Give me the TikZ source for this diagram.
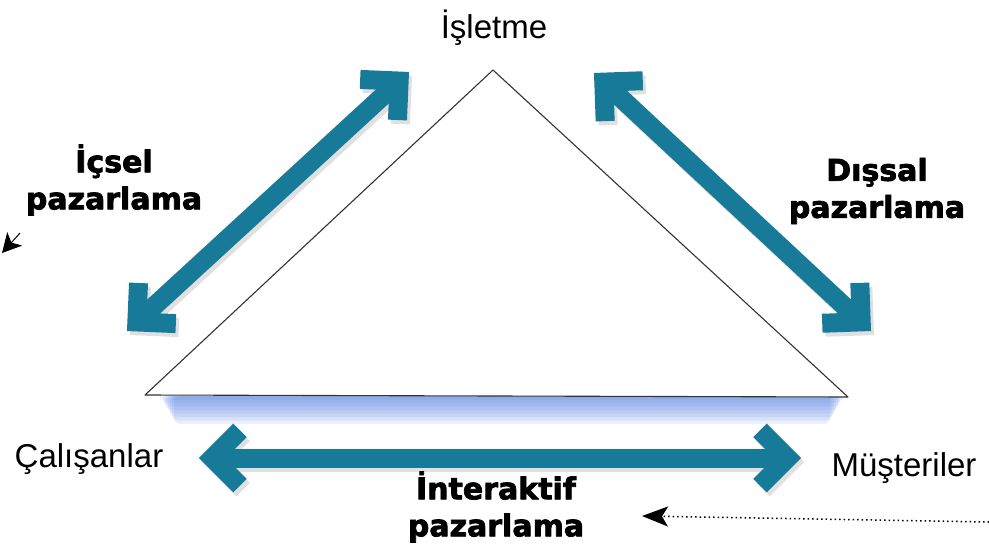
\documentclass[tikz,border=0pt]{standalone}
\usepackage{fontspec}
\setmainfont{Liberation Sans}
\newfontfamily\heavyfont{DejaVu Sans Bold}[FakeBold=2.5]
\usetikzlibrary{calc,arrows.meta}
\definecolor{arrowteal}{RGB}{22,122,152}
\definecolor{glowblue}{RGB}{80,125,225}
\tikzset{
  tealshaft/.style={draw=arrowteal, line width=19pt, line cap=butt},
  tealbarb/.style={tealshaft, line join=miter},
  plainlabel/.style={font=\fontsize{33}{38}\selectfont, inner sep=0pt},
  boldlabel/.style={font=\heavyfont\fontsize{30}{37}\selectfont, align=center, inner sep=0pt},
}
% two-way arrow between two tips, colour #3
\newcommand{\twowaypath}[3]{%
  \coordinate (#1in) at ($(#1)!13.4pt!(#2)$);
  \coordinate (#2in) at ($(#2)!13.4pt!(#1)$);
  \draw[tealshaft, draw=#3] (#1in) -- (#2in);
  \draw[tealbarb, draw=#3] ($(#1in)!39pt!45:(#2)$) -- (#1in) -- ($(#1in)!39pt!-45:(#2)$);
  \draw[tealbarb, draw=#3] ($(#2in)!39pt!45:(#1)$) -- (#2in) -- ($(#2in)!39pt!-45:(#1)$);
}
\newcommand{\twoway}[2]{%
  \begin{scope}[transform canvas={shift={(3,4)}}]
    \twowaypath{#1}{#2}{black!12}
  \end{scope}
  \twowaypath{#1}{#2}{arrowteal}
}
\begin{document}
\begin{tikzpicture}[x=1pt, y=-1pt, line join=round]
  \useasboundingbox (0,0) rectangle (989,560);
  % triangle corners
  \coordinate (A) at (145,395);
  \coordinate (T) at (493,70);
  \coordinate (B) at (848,397);

  % blue glow under the base
  \foreach \k in {1,...,8}
    \fill[glowblue, opacity=0.12, rounded corners=6pt] (158+2*\k,396) rectangle (846-2*\k,396+3.5*\k);

  % triangle
  \draw[black!80, line width=1.1pt, fill=white] (A) -- (T) -- (B) -- cycle;

  % arrow tips
  \coordinate (La) at (127,331);
  \coordinate (Lb) at (409,72);
  \coordinate (Ra) at (594,73);
  \coordinate (Rb) at (871,331);
  \coordinate (Ba) at (199,458);
  \coordinate (Bb) at (801,458);

  % two-way arrows
  \twoway{La}{Lb}
  \twoway{Ra}{Rb}
  \twoway{Ba}{Bb}

  % corner labels
  \node[plainlabel, anchor=base] (firm) at (494,38) {İşletme};
  \node[plainlabel, anchor=base] (staff) at (89,467) {Çalışanlar};
  \node[plainlabel, anchor=base] (clients) at (904,476) {Müşteriler};

  % side labels
  \node[boldlabel] (internal) at (114,180) {İçsel\\pazarlama};
  \node[boldlabel] (external) at (877,191) {Dışsal\\pazarlama};
  \node[boldlabel] (interactive) at (496,507) {İnteraktif\\pazarlama};

  % dotted pointer, bottom right
  \coordinate (dotstart) at (989,522);
  \coordinate (dotend) at (642,516);
  \draw[dash pattern=on 1.5pt off 3pt, line width=1.5pt, -{Stealth[length=26pt, width=20pt, inset=6pt]}] (dotstart) -- (dotend);

  % pointer stub, left edge
  \coordinate (stubstart) at (20,233);
  \coordinate (stubend) at (2,253);
  \draw[line width=1pt, -{Stealth[length=19pt, width=20pt, inset=5pt]}] (stubstart) -- (stubend);
\end{tikzpicture}
\end{document}
